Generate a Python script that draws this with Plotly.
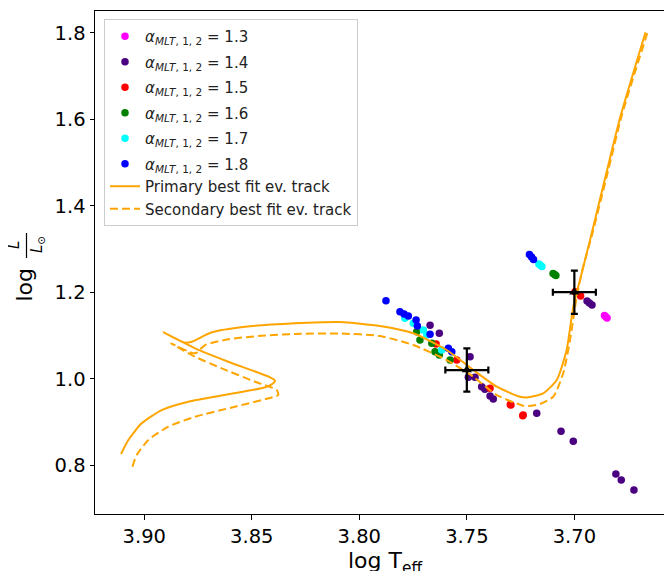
import plotly.graph_objects as go

# ---------------- data ----------------
alpha_labels = ["1.3", "1.4", "1.5", "1.6", "1.7", "1.8"]
alpha_colors = ["#FF00FF", "#4B0082", "#FF0000", "#008000", "#00FFFF", "#0000FF"]

teff_13 = [3.6860, 3.6854, 3.6848]
lum_13 = [1.1461, 1.1432, 1.1403]

teff_14 = [3.6941, 3.6930, 3.6918, 3.7175, 3.7062, 3.7005, 3.6807, 3.6782, 3.6723,
           3.7671, 3.7628, 3.7485, 3.7493, 3.7462, 3.7431, 3.7416, 3.7392, 3.7377]
lum_14 = [1.1797, 1.1750, 1.1704, 0.9200, 0.8784, 0.8553, 0.7797, 0.7658, 0.7427,
          1.1235, 1.1050, 1.0509, 1.0032, 1.0032, 0.9815, 0.9755, 0.9600, 0.9531]

teff_15 = [3.6997, 3.6971, 3.7240, 3.7238, 3.7295, 3.7298, 3.7392, 3.7643, 3.7547]
lum_15 = [1.2012, 1.1912, 0.9145, 0.9160, 0.9392, 0.9405, 0.9778, 1.0802, 1.0432]

teff_16 = [3.7099, 3.7092, 3.7086, 3.7733, 3.7718, 3.7663, 3.7648, 3.7628, 3.7578]
lum_16 = [1.2432, 1.2410, 1.2386, 1.1087, 1.0895, 1.0818, 1.0624, 1.0547, 1.0432]

teff_17 = [3.7165, 3.7158, 3.7151, 3.7788, 3.7749, 3.7702, 3.7686, 3.7617]
lum_17 = [1.2652, 1.2623, 1.2594, 1.1397, 1.1281, 1.1126, 1.1011, 1.0664]

teff_18 = [3.7209, 3.7199, 3.7190, 3.7876, 3.7811, 3.7792, 3.7772, 3.7736, 3.7730,
           3.7671, 3.7586, 3.7570]
lum_18 = [1.2872, 1.2814, 1.2756, 1.1803, 1.1549, 1.1496, 1.1450, 1.1357, 1.1218,
          1.1027, 1.0703, 1.0624]

primary_teff = [3.9108, 3.9074, 3.9012, 3.8919, 3.8795, 3.8609, 3.8438, 3.8400, 3.8392,
                3.8415, 3.8609, 3.8764, 3.8911, 3.8810, 3.8779, 3.8686, 3.8531, 3.8299,
                3.8090, 3.7904, 3.7749, 3.7594, 3.7470, 3.7361, 3.7253, 3.7214, 3.7145,
                3.7082, 3.7036, 3.7005, 3.6974, 3.6927, 3.6858, 3.6788, 3.6669]
primary_lum = [0.8259, 0.8583, 0.8969, 0.9276, 0.9468, 0.9639, 0.9801, 0.9894, 0.9954,
               1.0032, 1.0393, 1.0703, 1.1073, 1.0832, 1.0855, 1.1073, 1.1202, 1.1281,
               1.1311, 1.1218, 1.1050, 1.0664, 1.0201, 0.9815, 0.9584, 0.9570, 0.9662,
               0.9970, 1.0664, 1.1665, 1.2282, 1.3207, 1.4617, 1.6021, 1.8009]

secondary_teff = [3.9055, 3.9035, 3.8981, 3.8888, 3.8764, 3.8578, 3.8423, 3.8377, 3.8384,
                  3.8485, 3.8640, 3.8764, 3.8875, 3.8764, 3.8717, 3.8609, 3.8454, 3.8299,
                  3.8090, 3.7904, 3.7749, 3.7594, 3.7470, 3.7361, 3.7238, 3.7214, 3.7160,
                  3.7098, 3.7052, 3.7020, 3.6989, 3.6959, 3.6918, 3.6848, 3.6779, 3.6661]
secondary_lum = [0.7965, 0.8236, 0.8583, 0.8890, 0.9121, 0.9353, 0.9547, 0.9623, 0.9739,
                 0.9931, 1.0240, 1.0509, 1.0818, 1.0587, 1.0779, 1.0911, 1.0994, 1.1034,
                 1.1045, 1.0987, 1.0779, 1.0432, 1.0046, 0.9623, 0.9376, 0.9369, 0.9415,
                 0.9584, 1.0125, 1.0895, 1.1896, 1.2590, 1.3323, 1.4710, 1.6097, 1.7986]

obs_teff = [3.75, 3.70]
obs_lum = [1.02, 1.20]
obs_teff_err = [0.01, 0.01]
obs_lum_err = [0.05, 0.05]

x_ticks = [3.90, 3.85, 3.80, 3.75, 3.70]
y_ticks = [0.8, 1.0, 1.2, 1.4, 1.6, 1.8]

# ---------------- figure ----------------
FONT = "DejaVu Sans"
fig = go.Figure()

# the page body has an 8px margin: the figure is shrunk by that amount
PAGE_OFF = 8
FIG_W, FIG_H = 672 - PAGE_OFF, 571 - PAGE_OFF

# plot-area edges in page pixels
L_LEFT, T_TOP, B_BOT, R_RIGHT = 95, 11, 514, 672
W = R_RIGHT - L_LEFT
H = B_BOT - T_TOP

def py(yp):
    return (B_BOT - yp) / H

def px(xp):
    return (xp - L_LEFT) / W

groups = [(teff_13, lum_13), (teff_14, lum_14), (teff_15, lum_15),
          (teff_16, lum_16), (teff_17, lum_17), (teff_18, lum_18)]
for i, ((tx, ly), lab, col) in enumerate(zip(groups, alpha_labels, alpha_colors)):
    fig.add_trace(go.Scatter(
        x=tx, y=ly, mode="markers",
        marker=dict(color=col, size=7.5, line=dict(width=0)),
        name=f"<i>α</i><sub><i>MLT</i>, 1, 2</sub> = {lab}",
        legendgroup=f"g{min(i, 5)}",
    ))

fig.add_trace(go.Scatter(
    x=primary_teff, y=primary_lum, mode="lines",
    line=dict(color="#FFA500", width=2, shape="spline", smoothing=0.6),
    name="Primary best fit ev. track", legendgroup="g5",
))
fig.add_trace(go.Scatter(
    x=secondary_teff, y=secondary_lum, mode="lines",
    line=dict(color="#FFA500", width=2, dash="8px,4px", shape="spline", smoothing=0.6),
    name="Secondary best fit ev. track", legendgroup="g5",
))
fig.add_trace(go.Scatter(
    x=obs_teff, y=obs_lum, mode="markers",
    marker=dict(color="black", size=9, symbol="triangle-up"),
    error_x=dict(type="data", array=obs_teff_err, color="black", thickness=2.2, width=3.5),
    error_y=dict(type="data", array=obs_lum_err, color="black", thickness=2.2, width=3.5),
    showlegend=False,
))

annotations = [
    # x-axis title
    dict(text="log T<sub>eff</sub>", x=px(385), xref="paper", y=py(546), yref="paper",
         showarrow=False, xanchor="center", yanchor="top",
         font=dict(family=FONT, size=22, color="black")),
    # y-axis title: log L / L_sun
    dict(text="log", x=0, xref="paper", xshift=23.5 - L_LEFT, y=py(285), yref="paper",
         textangle=-90, showarrow=False, xanchor="center", yanchor="middle",
         font=dict(family=FONT, size=22, color="black")),
    dict(text="<i>L</i>", x=0, xref="paper", xshift=14 - L_LEFT, y=py(245), yref="paper",
         textangle=-90, showarrow=False, xanchor="center", yanchor="middle",
         font=dict(family=FONT, size=15, color="black")),
    dict(text="<i>L</i><sub>⊙</sub>", x=0, xref="paper", xshift=37 - L_LEFT, y=py(245),
         yref="paper", textangle=-90, showarrow=False, xanchor="center", yanchor="middle",
         font=dict(family=FONT, size=15, color="black")),
]
shapes = [
    dict(type="line", xref="paper", yref="paper",
         x0=px(26.5), x1=px(26.5), y0=py(233), y1=py(258),
         line=dict(color="black", width=1.2)),
]

fig.update_layout(
    width=FIG_W, height=FIG_H,
    margin=dict(l=L_LEFT - PAGE_OFF, r=0, t=T_TOP - PAGE_OFF, b=571 - B_BOT),
    paper_bgcolor="white", plot_bgcolor="white",
    font=dict(family=FONT, color="black"),
    showlegend=True,
    legend=dict(
        x=px(104), y=py(19), xanchor="left", yanchor="top",
        bgcolor="rgba(255,255,255,0.85)", bordercolor="#cccccc", borderwidth=1,
        font=dict(family=FONT, size=15, color="#222222"),
        tracegroupgap=3, itemwidth=30,
    ),
    annotations=annotations,
    shapes=shapes,
    xaxis=dict(
        range=[3.9229, 3.6546], tickvals=x_ticks, tickformat=".2f",
        showgrid=False, zeroline=False, showline=True, linecolor="black", linewidth=1,
        mirror=True, ticks="outside", ticklen=4.5, tickwidth=1, tickcolor="black",
        tickfont=dict(family=FONT, size=19.5, color="black"),
    ),
    yaxis=dict(
        range=[0.6872, 1.8502], tickvals=y_ticks, tickformat=".1f",
        showgrid=False, zeroline=False, showline=True, linecolor="black", linewidth=1,
        mirror=False, ticks="outside", ticklen=4.5, tickwidth=1, tickcolor="black",
        tickfont=dict(family=FONT, size=19.5, color="black"),
    ),
)

fig.write_html("out.html")
